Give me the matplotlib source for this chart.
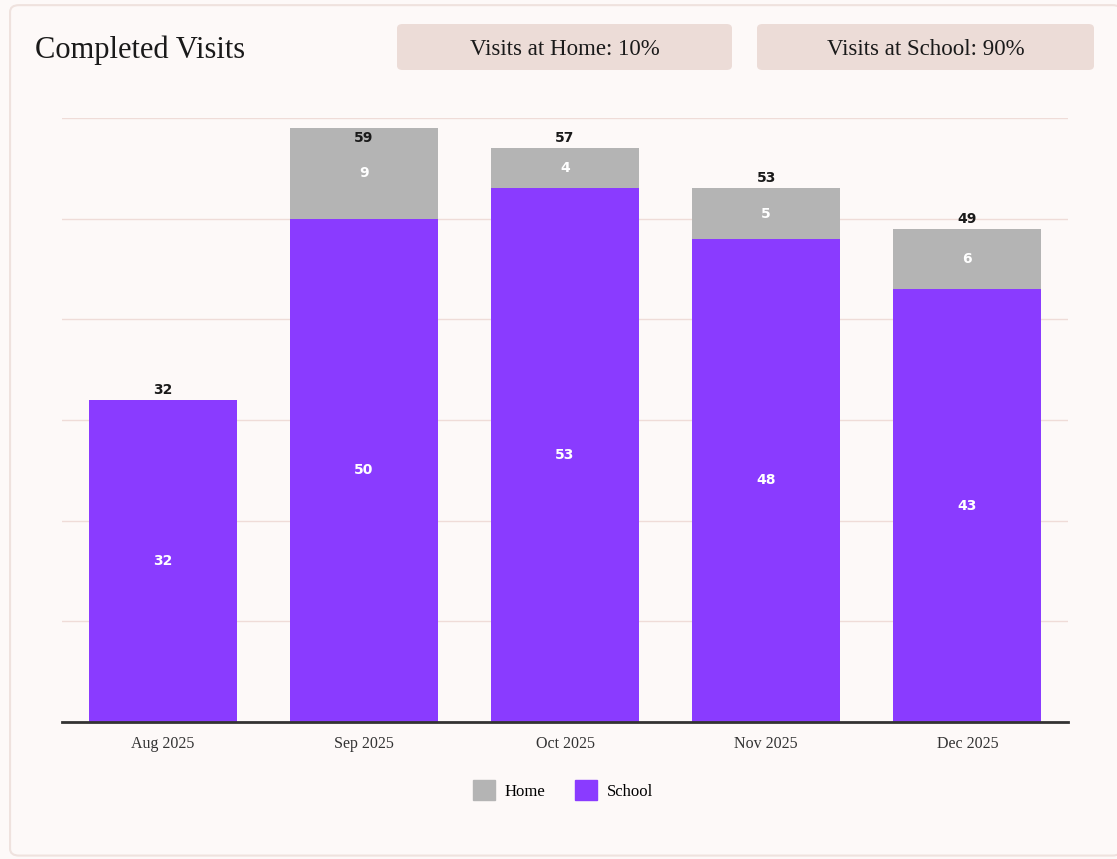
import matplotlib
matplotlib.use('Agg')
import matplotlib.pyplot as plt
from matplotlib.patches import FancyBboxPatch, Patch

# Daten
months = ['Aug 2025', 'Sep 2025', 'Oct 2025', 'Nov 2025', 'Dec 2025']
school = [32, 50, 53, 48, 43]
home = [0, 9, 4, 5, 6]
badge_texts = ['Visits at Home: 10%', 'Visits at School: 90%']

bg = '#fdf9f8'
purple = '#8a3bff'
grey = '#b4b4b4'
serif = ['Liberation Serif', 'DejaVu Serif']

fig = plt.figure(figsize=(11.17, 8.59), dpi=100, facecolor=bg)

# Rahmen
fig.patches.append(FancyBboxPatch((0.009, 0.004), 0.995, 0.99, boxstyle='round,pad=0,rounding_size=0.008',
                                  transform=fig.transFigure, facecolor=bg, edgecolor='#efe2de', linewidth=1.5,
                                  zorder=-10))

fig.text(0.031, 1 - 47 / 859, 'Completed Visits', fontsize=22, family=serif, va='center_baseline', ha='left',
         color='#1a1a1a')

# Badges
for (x0, x1), txt in zip([(397, 732), (757, 1094)], badge_texts):
    fig.patches.append(FancyBboxPatch((x0 / 1117, 1 - 70 / 859), (x1 - x0) / 1117, 46 / 859,
                                      boxstyle='round,pad=0,rounding_size=0.005', transform=fig.transFigure,
                                      facecolor='#ecdcd7', edgecolor='none', zorder=-5))
    fig.text((x0 + x1) / 2 / 1117, 1 - 47 / 859, txt, fontsize=16.5, family=serif, ha='center',
             va='center_baseline', color='#1a1a1a')

ax = fig.add_axes([62 / 1117, 1 - 722 / 859, (1068 - 62) / 1117, (722 - 118) / 859])
ax.set_facecolor(bg)

x = range(len(months))
totals = [s + h for s, h in zip(school, home)]
ax.bar(x, school, width=0.735, color=purple, zorder=3)
ax.bar(x, home, bottom=school, width=0.735, color=grey, zorder=3)

for i in x:
    ax.text(i, school[i] / 2, str(school[i]), ha='center', va='center', color='white', fontsize=10,
            fontweight='bold', zorder=4)
    if home[i] > 0:
        ax.text(i, school[i] + home[i] / 2, str(home[i]), ha='center', va='center', color='white', fontsize=10,
                fontweight='bold', zorder=4)
    ax.text(i, min(totals[i] + 1.0, 58.0), str(totals[i]), ha='center', va='center', color='#1a1a1a',
            fontsize=10, fontweight='bold', zorder=4)

ax.set_xlim(-0.5, 4.5)
ax.set_ylim(0, 60)
ax.set_yticks(range(0, 61, 10))
ax.set_yticklabels([])
ax.tick_params(axis='y', length=0)
ax.tick_params(axis='x', length=0, pad=10)
ax.set_xticks(list(x))
ax.set_xticklabels(months, family=serif, fontsize=11.5, color='#333333')
ax.grid(axis='y', color='#efdcd8', linewidth=1, zorder=0)
for s in ['top', 'right', 'left']:
    ax.spines[s].set_visible(False)
ax.spines['bottom'].set_color('#333333')
ax.spines['bottom'].set_linewidth(2)
ax.spines['bottom'].set_zorder(5)

handles = [Patch(color=grey, label='Home'), Patch(color=purple, label='School')]
fig.legend(handles=handles, loc='center', bbox_to_anchor=(563 / 1117, 1 - 790 / 859), ncol=2, frameon=False,
           prop={'family': serif, 'size': 12}, handlelength=1.3, handleheight=1.5, columnspacing=1.8,
           handletextpad=0.6)

fig.savefig('out.png', dpi=100, facecolor=bg)
